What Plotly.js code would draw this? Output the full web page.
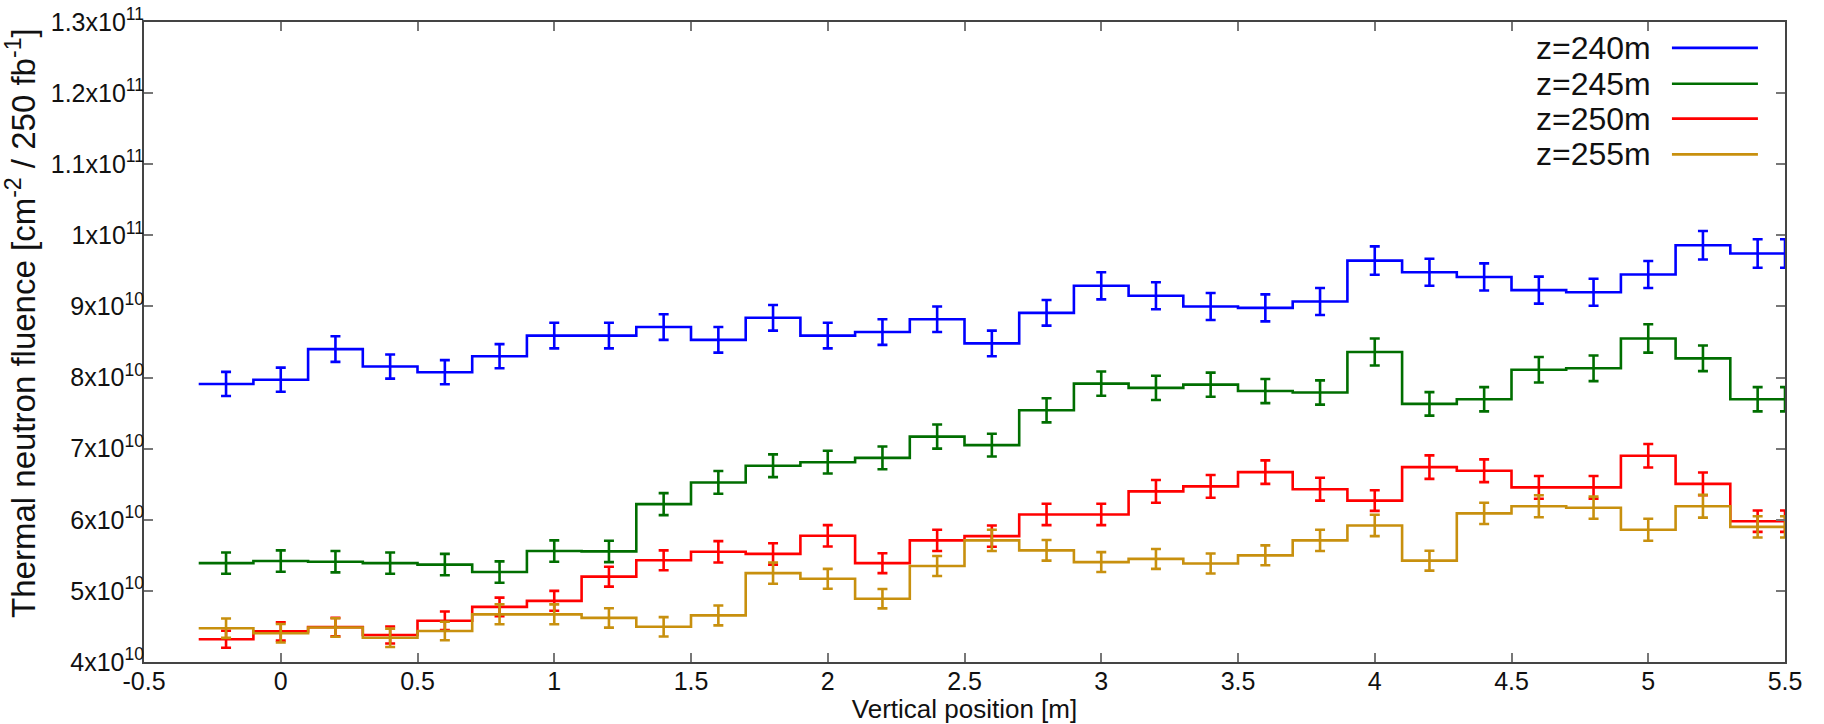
<!DOCTYPE html>
<html>
<head>
<meta charset="utf-8">
<script src="https://cdn.plot.ly/plotly-3.0.1.min.js"></script>
<style>
  html, body { margin: 0; padding: 0; background: #fff; }
  #chart { width: 1824px; height: 724px; }
</style>
</head>
<body>
<div id="chart"></div>
<script>
// Bin centres of the vertical scan [m], 0.2 m wide bins
const positions = [-0.2, 0.0, 0.2, 0.4, 0.6, 0.8, 1.0, 1.2, 1.4, 1.6, 1.8, 2.0, 2.2, 2.4, 2.6,
                   2.8, 3.0, 3.2, 3.4, 3.6, 3.8, 4.0, 4.2, 4.4, 4.6, 4.8, 5.0, 5.2, 5.4];
const binWidth = 0.2;

// Fluence per bin, in units of 1e10 cm^-2 / 250 fb^-1
const fluence240 = [7.91, 7.97, 8.40, 8.155, 8.075, 8.30, 8.59, 8.59, 8.71, 8.53, 8.84, 8.59, 8.64, 8.82, 8.48,
                    8.91, 9.29, 9.15, 9.00, 8.98, 9.07, 9.645, 9.48, 9.415, 9.23, 9.20, 9.45, 9.86, 9.745];
const error240   = [0.17, 0.17, 0.18, 0.17, 0.17, 0.17, 0.18, 0.18, 0.18, 0.18, 0.18, 0.18, 0.18, 0.18, 0.18,
                    0.18, 0.19, 0.19, 0.19, 0.19, 0.19, 0.20, 0.19, 0.19, 0.19, 0.19, 0.19, 0.20, 0.20];

const fluence245 = [5.39, 5.42, 5.41, 5.39, 5.37, 5.265, 5.56, 5.555, 6.22, 6.525, 6.76, 6.81, 6.87, 7.17, 7.05,
                    7.54, 7.915, 7.855, 7.90, 7.81, 7.79, 8.36, 7.63, 7.695, 8.11, 8.13, 8.55, 8.27, 7.695];
const error245   = [0.15, 0.15, 0.15, 0.15, 0.15, 0.15, 0.15, 0.15, 0.155, 0.16, 0.16, 0.16, 0.16, 0.17, 0.16,
                    0.17, 0.17, 0.17, 0.17, 0.17, 0.17, 0.19, 0.165, 0.17, 0.18, 0.18, 0.20, 0.18, 0.17];

const fluence250 = [4.32, 4.43, 4.49, 4.38, 4.58, 4.775, 4.86, 5.20, 5.43, 5.55, 5.52, 5.775, 5.39, 5.71, 5.77,
                    6.075, 6.075, 6.40, 6.47, 6.67, 6.43, 6.27, 6.74, 6.69, 6.455, 6.455, 6.90, 6.505, 5.98];
const error250   = [0.12, 0.13, 0.13, 0.12, 0.13, 0.13, 0.14, 0.14, 0.14, 0.15, 0.15, 0.15, 0.14, 0.15, 0.15,
                    0.15, 0.15, 0.16, 0.16, 0.165, 0.16, 0.145, 0.165, 0.16, 0.16, 0.16, 0.165, 0.16, 0.15];

const fluence255 = [4.475, 4.405, 4.485, 4.34, 4.435, 4.67, 4.67, 4.62, 4.495, 4.655, 5.25, 5.17, 4.89, 5.35, 5.71,
                    5.57, 5.405, 5.45, 5.385, 5.50, 5.71, 5.92, 5.425, 6.09, 6.19, 6.17, 5.86, 6.19, 5.90];
const error255   = [0.136, 0.13, 0.13, 0.13, 0.13, 0.14, 0.14, 0.136, 0.136, 0.14, 0.15, 0.14, 0.136, 0.14, 0.15,
                    0.145, 0.14, 0.14, 0.14, 0.14, 0.15, 0.15, 0.14, 0.15, 0.155, 0.155, 0.155, 0.16, 0.15];

const seriesNames  = ['z=240m', 'z=245m', 'z=250m', 'z=255m'];
const seriesColors = ['#0000ff', '#006e00', '#ff0000', '#c8900e'];

const yTickVals = [4e10, 5e10, 6e10, 7e10, 8e10, 9e10, 1e11, 1.1e11, 1.2e11, 1.3e11];
const yTickText = ['4x10<sup>10</sup>', '5x10<sup>10</sup>', '6x10<sup>10</sup>', '7x10<sup>10</sup>',
                   '8x10<sup>10</sup>', '9x10<sup>10</sup>', '1x10<sup>11</sup>', '1.1x10<sup>11</sup>',
                   '1.2x10<sup>11</sup>', '1.3x10<sup>11</sup>'];
const xTickVals = [-0.5, 0, 0.5, 1, 1.5, 2, 2.5, 3, 3.5, 4, 4.5, 5, 5.5];
const yTitle = 'Thermal neutron fluence [cm<sup>-2</sup> / 250 fb<sup>-1</sup>]';
const xTitle = 'Vertical position [m]';

const unit = 1e10;
const values = [fluence240, fluence245, fluence250, fluence255];
const errors = [error240, error245, error250, error255];
const FONT = 'Liberation Sans, Arial, sans-serif';

// Bin edges for the step outline
const edges = positions.map(c => +(c - binWidth / 2).toFixed(3));
edges.push(+(positions[positions.length - 1] + binWidth / 2).toFixed(3));

const traces = [];
values.forEach((vals, i) => {
  const y = vals.map(v => v * unit);
  // histogram-style outline: each bin drawn flat across its width
  traces.push({
    type: 'scatter', mode: 'lines',
    x: edges, y: y.concat([y[y.length - 1]]),
    line: { shape: 'hv', color: seriesColors[i], width: 2.6 },
    hoverinfo: 'skip', showlegend: false
  });
  // statistical errors at bin centres, repeated at the closing edge
  const ex = positions.concat([edges[edges.length - 1]]);
  const ey = y.concat([y[y.length - 1]]);
  const ee = errors[i].map(e => e * unit);
  traces.push({
    type: 'scatter', mode: 'markers',
    x: ex, y: ey,
    marker: { size: 1, color: 'rgba(0,0,0,0)' },
    error_y: { type: 'data', array: ee.concat([ee[ee.length - 1]]), visible: true,
               color: seriesColors[i], thickness: 2.6, width: 5 },
    name: seriesNames[i], showlegend: false, cliponaxis: true
  });
});

// Key in the upper right corner: label followed by a line sample
const keyRows = [0.9596, 0.9036, 0.8491, 0.7932];
const annotations = seriesNames.map((n, i) => ({
  xref: 'paper', yref: 'paper', x: 0.9196, y: keyRows[i],
  xanchor: 'right', yanchor: 'middle', showarrow: false,
  text: n, font: { family: FONT, size: 32, color: '#111' }
}));
// vertical axis title, set to the left of the tick labels
annotations.push({
  xref: 'paper', yref: 'paper', x: -0.0749, y: 0.53,
  xanchor: 'center', yanchor: 'middle', showarrow: false, textangle: -90,
  text: yTitle, font: { family: FONT, size: 33, color: '#111' }
});
const shapes = seriesColors.map((c, i) => ({
  type: 'line', xref: 'paper', yref: 'paper',
  x0: 0.9311, x1: 0.9835, y0: keyRows[i], y1: keyRows[i],
  line: { color: c, width: 2.6 }
}));

const axisCommon = {
  showgrid: false, zeroline: false,
  showline: true, linecolor: '#444', linewidth: 2, mirror: 'ticks',
  ticks: 'inside', ticklen: 9, tickwidth: 2, tickcolor: '#777',
  tickfont: { family: FONT, size: 25, color: '#111' }
};

const layout = {
  width: 1824, height: 724,
  margin: { l: 144, r: 39, t: 22, b: 62 },
  paper_bgcolor: '#fff', plot_bgcolor: '#fff',
  showlegend: false,
  xaxis: Object.assign({}, axisCommon, {
    range: [-0.5, 5.5], tickvals: xTickVals, ticktext: xTickVals.map(String),
    ticklabelstandoff: -4,
    title: { text: xTitle, standoff: 4, font: { family: FONT, size: 26, color: '#111' } }
  }),
  yaxis: Object.assign({}, axisCommon, {
    range: [4e10, 1.3e11], tickvals: yTickVals, ticktext: yTickText,
    ticklabelstandoff: -7
  }),
  annotations: annotations,
  shapes: shapes
};

Plotly.newPlot('chart', traces, layout, { displayModeBar: false, staticPlot: true });
</script>
</body>
</html>
